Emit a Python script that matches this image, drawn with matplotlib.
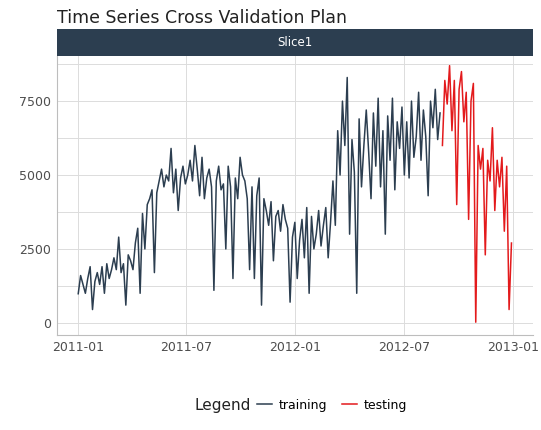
import pandas as pd
import matplotlib.pyplot as plt
import matplotlib.dates as mdates

TRAIN_VALUES = [
    985, 1600, 1300, 1000, 1500, 1900, 450, 1400,
    1700, 1300, 1900, 1000, 2000, 1500, 1800,
    2200, 1800, 2900, 1700, 2000, 600, 2300, 2100,
    1800, 2700, 3200, 1000, 3700, 2500, 4000,
    4200, 4500, 1700, 4400, 4800, 5200, 4600, 5000,
    4800, 5900, 4400, 5200, 3800, 4900, 5300, 4700,
    5000, 5500, 4800, 6000, 5200, 4300, 5600,
    4200, 4900, 5200, 4600, 1100, 4800, 5300, 4500,
    4700, 2500, 5300, 4600, 1500, 4900, 4200, 5600,
    5000, 4800, 4200, 1800, 4600, 1500, 4300, 4900,
    600, 4200, 3800, 3300, 4100, 2100, 3600,
    3800, 3100, 4000, 3500, 3200, 700, 2900, 3400,
    1500, 2800, 3500, 2200, 3900, 1000, 3600, 2500,
    3000, 3800, 2600, 3300, 3900, 2200, 3400,
    4800, 3300, 6500, 5000, 7500, 6000, 8300, 3000,
    6200, 5100, 1000, 6900, 4600, 6000, 7200,
    5800, 4200, 7100, 5300, 7600, 4600, 6500, 3000,
    7000, 5500, 7600, 4500, 6800, 5900, 7300, 5000,
    6800, 4900, 7500, 5600, 6300, 7800, 5500,
    7200, 6300, 4300, 7500, 6600, 7900, 6200, 7100,
]
TEST_VALUES = [
    6000, 8200, 7400, 8700, 6500, 8200, 4000, 7900,
    8500, 6800, 7800, 3500, 7500, 8100, 22, 6000,
    5200, 5900, 2300, 5500, 4800, 6600, 3800,
    5500, 4600, 5600, 3100, 5300, 450, 2700,
]
Y_TICKS = [0, 2500, 5000, 7500]
X_TICKS = ["2011-01-01", "2011-07-01", "2012-01-01", "2012-07-01", "2013-01-01"]

NAVY = "#2C3E50"
RED = "#E31A1C"

dates = pd.date_range("2011-01-01", periods=len(TRAIN_VALUES) + len(TEST_VALUES), freq="4D")
train_dates = dates[:len(TRAIN_VALUES)]
test_dates = dates[len(TRAIN_VALUES):]

fig = plt.figure(figsize=(5.41, 4.30), dpi=100)
ax = fig.add_axes([0.105, 0.221, 0.88, 0.649])
ax.plot(train_dates, TRAIN_VALUES, color=NAVY, lw=1.1, label="training")
ax.plot(test_dates, TEST_VALUES, color=RED, lw=1.1, label="testing")

ax.set_xlim(pd.Timestamp("2010-11-26"), pd.Timestamp("2013-02-03"))
ax.set_ylim(-410, 9030)
ax.set_yticks(Y_TICKS)
ax.set_yticks([1250, 3750, 6250, 8750], minor=True)
ax.set_xticks(pd.to_datetime(X_TICKS))
ax.xaxis.set_major_formatter(mdates.DateFormatter("%Y-%m"))
ax.grid(True, which="both", color="#dcdcdc", lw=0.7)
ax.set_axisbelow(True)
ax.tick_params(which="both", length=0, labelsize=9, labelcolor="#4d4d4d", pad=4)
for side, sp in ax.spines.items():
    sp.set_color("#bdbdbd" if side in ("left", "bottom") else "none")

# facet strip
strip = fig.add_axes([0.105, 0.870, 0.88, 0.063])
strip.set_facecolor(NAVY)
strip.set_xticks([])
strip.set_yticks([])
for sp in strip.spines.values():
    sp.set_visible(False)
strip.text(0.5, 0.5, "Slice1", color="white", fontsize=8.5, ha="center", va="center",
           transform=strip.transAxes)

fig.text(0.105, 0.958, "Time Series Cross Validation Plan", fontsize=12.5, color="#222222",
         ha="left", va="center")

fig.text(0.36, 0.058, "Legend", fontsize=11, color="#222222", ha="left", va="center")
fig.legend(loc="center left", bbox_to_anchor=(0.455, 0.058), ncol=2, frameon=False,
           fontsize=9, handlelength=1.2, columnspacing=1.2, handletextpad=0.5)

plt.savefig("out.png")
